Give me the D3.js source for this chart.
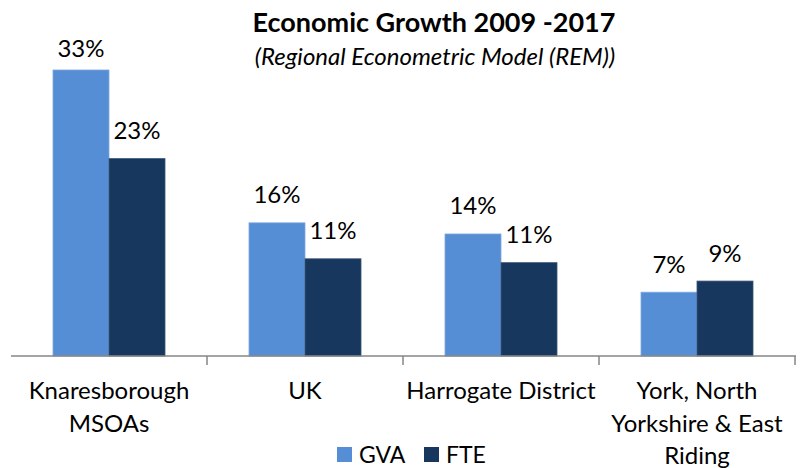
<!DOCTYPE html>
<html>
<head>
<meta charset="utf-8">
<script src="https://cdn.jsdelivr.net/npm/d3@7"></script>
<style>
  html, body { margin: 0; padding: 0; background: #fff; }
  svg { display: block; }
  text { font-family: Lato, "Open Sans", sans-serif; fill: #000; }
</style>
</head>
<body>
<svg id="chart" width="803" height="468"></svg>
<script>
// ---- data ----
const categories = [
  ["Knaresborough", "MSOAs"],
  ["UK"],
  ["Harrogate District"],
  ["York, North", "Yorkshire & East", "Riding"]
];
const categoryKeys = ["Knaresborough MSOAs", "UK", "Harrogate District", "York, North Yorkshire & East Riding"];
const seriesNames = ["GVA", "FTE"];
const gvaValues = [0.334, 0.1555, 0.1425, 0.0745];
const fteValues = [0.2305, 0.1135, 0.109, 0.0875];
const titleText = "Economic Growth 2009 -2017";
const subtitleText = "(Regional Econometric Model (REM))";

// ---- layout ----
const W = 803, H = 468;
const plot = { left: 11, right: 795, top: 56, bottom: 356 };
const colors = { GVA: "#558ED5", FTE: "#17375E" };

const svg = d3.select("#chart");

const x0 = d3.scaleBand().domain(categoryKeys).range([plot.left, plot.right]).paddingInner(0).paddingOuter(0);
const x1 = d3.scaleBand().domain(seriesNames).range([0, x0.bandwidth()]).paddingInner(0).paddingOuter(0.75);
const y = d3.scaleLinear().domain([0, 0.35]).range([plot.bottom, plot.bottom - 0.35 * 856.3]);

const rows = categoryKeys.map((k, i) => ({ key: k, GVA: gvaValues[i], FTE: fteValues[i] }));

// bars
const groups = svg.append("g").selectAll("g").data(rows).join("g")
  .attr("transform", d => `translate(${x0(d.key)},0)`);

groups.selectAll("rect").data(d => seriesNames.map(s => ({ s, v: d[s] }))).join("rect")
  .attr("x", d => x1(d.s))
  .attr("width", x1.bandwidth())
  .attr("y", d => y(d.v))
  .attr("height", d => y(0) - y(d.v))
  .attr("fill", d => colors[d.s])
  .attr("stroke", d => d.s === "GVA" ? "#7FA8DF" : "#3A5577")
  .attr("stroke-width", 0.8);

// data labels
const fmt = d3.format(".0%");
groups.selectAll("text.lbl").data(d => seriesNames.map(s => ({ s, v: d[s] }))).join("text")
  .attr("class", "lbl")
  .attr("x", d => x1(d.s) + x1.bandwidth() / 2)
  .attr("y", d => Math.max(y(d.v) - 19.5, 56.5))
  .attr("text-anchor", "middle")
  .attr("font-size", 24)
  .text(d => fmt(d.v));

// axis
const axisG = svg.append("g").attr("transform", `translate(0,${plot.bottom})`);
axisG.append("line")
  .attr("x1", plot.left).attr("x2", plot.right + 1)
  .attr("stroke", "#868686").attr("stroke-width", 1.5);
const boundaries = categoryKeys.slice(1).map(k => x0(k)).concat([plot.right]);
axisG.selectAll("line.tick").data(boundaries).join("line")
  .attr("class", "tick")
  .attr("x1", d => d).attr("x2", d => d)
  .attr("y1", 0).attr("y2", 9)
  .attr("stroke", "#868686").attr("stroke-width", 1.5);

// category labels
const catG = svg.append("g");
catG.selectAll("text").data(categories).join("text")
  .attr("x", (d, i) => x0(categoryKeys[i]) + x0.bandwidth() / 2)
  .attr("y", 399)
  .attr("text-anchor", "middle")
  .attr("font-size", 24)
  .each(function(lines) {
    d3.select(this).selectAll("tspan").data(lines).join("tspan")
      .attr("x", d3.select(this).attr("x"))
      .attr("dy", (l, j) => j === 0 ? 0 : 32.5)
      .text(l => l);
  });

// title
svg.append("text").attr("x", 434).attr("y", 31.5).attr("text-anchor", "middle")
  .attr("font-size", 27).attr("font-weight", "bold").text(titleText);
svg.append("text").attr("x", 435).attr("y", 64.5).attr("text-anchor", "middle")
  .attr("font-size", 24).attr("font-style", "italic").text(subtitleText);

// legend
const legendX = [337, 424];
const leg = svg.append("g").selectAll("g").data(seriesNames).join("g")
  .attr("transform", (d, i) => `translate(${legendX[i]},447)`);
leg.append("rect").attr("width", 15).attr("height", 15).attr("fill", d => colors[d]);
leg.append("text").attr("x", 22).attr("y", 15.5).attr("font-size", 23).text(d => d);
</script>
</body>
</html>
